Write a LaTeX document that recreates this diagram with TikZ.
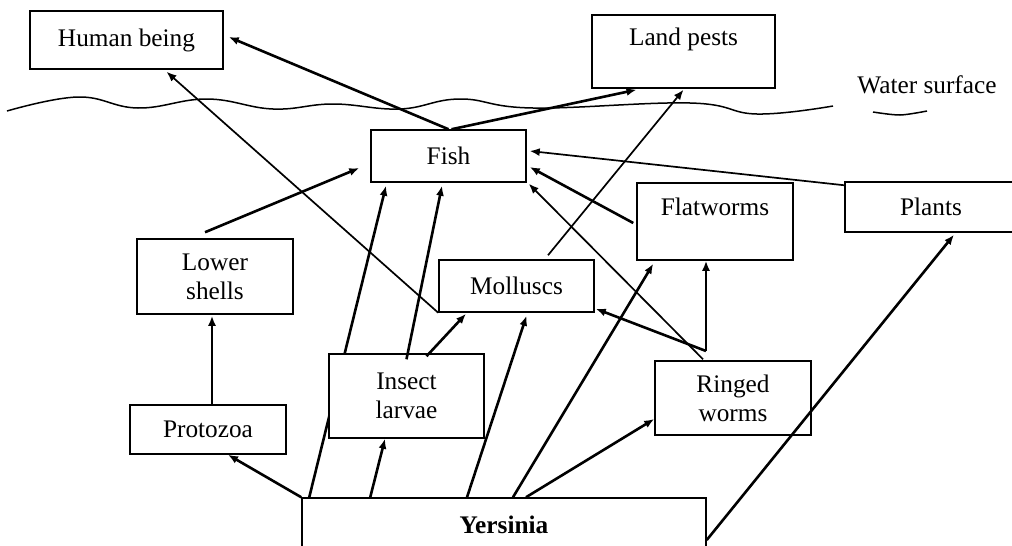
\documentclass[tikz,border=0pt]{standalone}
\usepackage{fontspec}
\setmainfont{Liberation Serif}
\usetikzlibrary{arrows.meta}
\pgfdeclarelayer{fondo}
\pgfsetlayers{fondo,main}

\begin{document}
\begin{tikzpicture}[x=1pt, y=-1pt, every node/.style={font=\fontsize{25.3}{29}\selectfont},
  caja/.style={draw, line width=1.5pt, fill=white, align=center, inner sep=0pt},
  flecha/.style={line width=2.6pt, -{Latex[length=10pt,width=8pt]}},
  flechafina/.style={line width=1.7pt, -{Latex[length=10pt,width=8pt]}},
  agua/.style={line width=1.5pt}]
  \path[use as bounding box] (0,0) rectangle (1012,546);
  \clip (0,0) rectangle (1012,546);
  % Cajas (organismos)
  \node[caja, minimum width=193, minimum height=58] (human) at (126.5,40) {Human being};
  \node[caja, minimum width=183, minimum height=73] (land) at (683.5,51.5) {Land pests\\ ~};
  \node[caja, minimum width=155, minimum height=52] (fish) at (448.5,156) {Fish};
  \node[caja, minimum width=156, minimum height=75] (shells) at (215,276.5) {Lower\\shells};
  \node[caja, minimum width=156, minimum height=49] (proto) at (208,429.5) {Protozoa};
  \node[caja, minimum width=155, minimum height=84] (larvae) at (406.5,396) {Insect\\larvae};
  \node[caja, minimum width=155, minimum height=52] (moll) at (516.5,286) {Molluscs};
  \node[caja, minimum width=156, minimum height=77] (flat) at (715,221.5) {Flatworms\\ ~};
  \node[caja, minimum width=172, minimum height=50] (plants) at (931,207) {Plants};
  \node[caja, minimum width=156, minimum height=74] (ringed) at (733,398) {Ringed\\worms};
  \node[caja, minimum width=404, minimum height=54] (yers) at (504,525) {\textbf{Yersinia}};
  \coordinate (cruce) at (706,351);
  % Superficie del agua
  \draw[agua] plot[smooth, tension=0.7] coordinates {(7,111) (78,97) (138,108) (207,99) (273,109)
    (333,104) (400,109) (460,99) (533,108) (690,103) (757,114) (833,106)};
  \draw[agua] plot[smooth] coordinates {(873,112) (900,115) (927,111)};
  \node (agua) at (927,85) {Water surface};
  % Flechas hacia arriba (fuera del agua)
  \draw[flecha] (fish.north) -- ([shift={(5,-3)}]human.east);
  \draw[flecha] ([shift={(3,0)}]fish.north) -- ([shift={(-47,1)}]land.south);
  \draw[flechafina] (moll.south west) -- ([shift={(40,2)}]human.south);
  \draw[flechafina] ([shift={(31.5,-4)}]moll.north) -- ([shift={(0,1)}]land.south);
  % Flechas hacia Fish
  \draw[flecha] ([shift={(-10,-6)}]shells.north) -- ([shift={(-11,12)}]fish.west);
  \draw[flecha] ([shift={(0,6)}]larvae.north) -- ([shift={(-6.5,3)}]fish.south);
  \draw[flechafina] ([shift={(-30,-1)}]ringed.north) -- ([shift={(2,1)}]fish.south east);
  \draw[flecha] ([shift={(-3,1.5)}]flat.west) -- ([shift={(3,11)}]fish.east);
  \draw[flechafina] ([shift={(0,4)}]plants.north west) -- ([shift={(3,-5)}]fish.east);
  \begin{pgfonlayer}{fondo}
    \draw[flecha] ([shift={(8,0)}]yers.north west) -- ([shift={(-62.5,3)}]fish.south);
  \end{pgfonlayer}
  % Flechas desde Yersinia
  \draw[flecha] (yers.north west) -- ([shift={(20,0)}]proto.south);
  \draw[flecha] ([shift={(69,0)}]yers.north west) -- ([shift={(-21.5,0)}]larvae.south);
  \draw[flecha] ([shift={(-37,0)}]yers.north) -- ([shift={(10,3)}]moll.south);
  \draw[flecha] ([shift={(9,0)}]yers.north) -- ([shift={(17,3)}]flat.south west);
  \draw[flecha] ([shift={(22,0)}]yers.north) -- ([shift={(0,21)}]ringed.west);
  \draw[flecha] ([shift={(0,15)}]yers.east) -- ([shift={(23,2)}]plants.south);
  % Otras
  \draw[flecha] ([shift={(4,0)}]proto.north) -- ([shift={(-3,1)}]shells.south);
  \draw[flecha] ([shift={(20,3)}]larvae.north) -- ([shift={(-50.5,1)}]moll.south);
  \draw[flecha] (cruce) -- ([shift={(-9,0)}]flat.south);
  \draw[flecha] (cruce) -- ([shift={(1,-4)}]moll.south east);
\end{tikzpicture}
\end{document}
